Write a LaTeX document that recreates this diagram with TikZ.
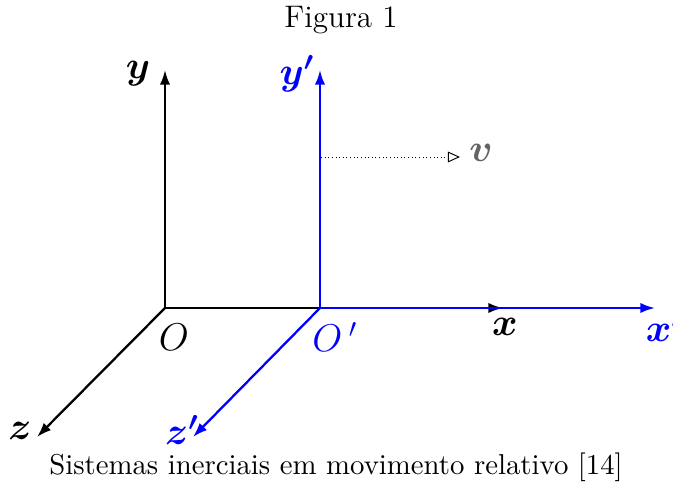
\documentclass[tikz,border=0pt]{standalone}
\usepackage{amsmath}
\usetikzlibrary{arrows.meta}
\definecolor{vgray}{RGB}{100,100,100}
\tikzset{
  axis/.style={line width=0.85pt,-{Latex[length=5.4pt,width=3.8pt]}},
  lbl/.style={inner sep=0pt,font=\Large},
  txt/.style={inner sep=0pt,font=\fontsize{10.7}{13}\selectfont},
}
\begin{document}
\begin{tikzpicture}[x=0.372pt,y=-0.372pt]
\useasboundingbox (0,0) rectangle (673,484);
\coordinate (O) at (165,308);
\coordinate (Op) at (320,308);
\coordinate (ytip) at (165,70);
\coordinate (xtip) at (503,308);
\coordinate (ztip) at (37,437);
\coordinate (yptip) at (320,70);
\coordinate (xptip) at (655,308);
\coordinate (zptip) at (193,437);
\coordinate (vs) at (321,157);
\coordinate (ve) at (460,157);
% black frame
\draw[axis] (O) -- (ytip);
\draw[axis] (O) -- (xtip);
\draw[axis] (O) -- (ztip);
% blue frame
\draw[axis,blue] (Op) -- (yptip);
\draw[axis,blue] (Op) -- (xptip);
\draw[axis,blue] (Op) -- (zptip);
% velocity
\draw[densely dotted,line width=0.35pt,-{Triangle[open,length=4.5pt,width=4pt]}] (vs) -- (ve);
% labels
\node[lbl] (ly) at (138,74) {$\boldsymbol{y}$};
\node[lbl,blue] (lyp) at (297,74) {$\boldsymbol{y'}$};
\node[lbl,text=vgray] (lv) at (481,153) {$\boldsymbol{v}$};
\node[lbl] (lx) at (505,327) {$\boldsymbol{x}$};
\node[lbl,blue] (lxp) at (664,327) {$\boldsymbol{x'}$};
\node[lbl] (lO) at (174,337) {$O$};
\node[lbl,blue] (lOp) at (335,337) {$O\,'$};
\node[lbl] (lz) at (20,431) {$\boldsymbol{z}$};
\node[lbl,blue] (lzp) at (182,430) {$\boldsymbol{z'}$};
\node[txt,font=\fontsize{11.6}{14}\selectfont] (title) at (341,20) {Figura 1};
\node[txt] (cap) at (336,467) {Sistemas inerciais em movimento relativo [14]};
\end{tikzpicture}
\end{document}
